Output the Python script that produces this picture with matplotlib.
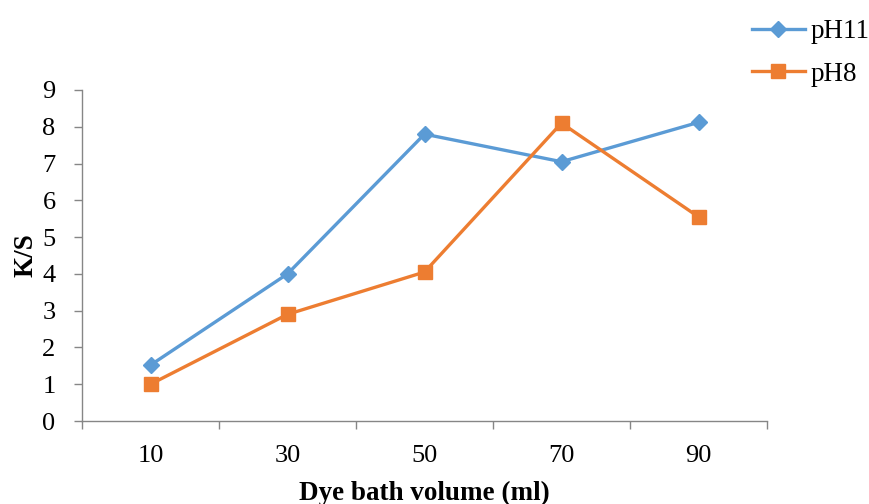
import matplotlib
matplotlib.use("Agg")
import matplotlib.pyplot as plt
import numpy as np

volumes = ["10", "30", "50", "70", "90"]
ks_ph11 = [1.52, 4.0, 7.8, 7.05, 8.12]
ks_ph8 = [1.0, 2.9, 4.05, 8.1, 5.55]

plt.rcParams["font.family"] = ["Liberation Serif", "DejaVu Serif"]

fig = plt.figure(figsize=(8.69, 5.04), dpi=100)
ax = fig.add_axes([82 / 869, 1 - 421 / 504, (767 - 82) / 869, (421 - 90) / 504])

x = np.arange(len(volumes))
axis_col = "#868686"

ax.plot(x, ks_ph11, color="#5B9BD5", linewidth=2.4, marker="D", markersize=8,
        label="pH11", clip_on=False, zorder=3)
ax.plot(x, ks_ph8, color="#ED7D31", linewidth=2.4, marker="s", markersize=10,
        label="pH8", clip_on=False, zorder=3)

ax.set_xlim(-0.5, len(volumes) - 0.5)
ax.set_ylim(0, 9)
ax.set_yticks(range(0, 10))
ax.set_xticks(x)
ax.set_xticklabels(volumes)
ax.set_xticks(np.arange(-0.5, len(volumes)), minor=True)

ax.tick_params(axis="x", which="major", length=0, pad=17, labelsize=19)
ax.tick_params(axis="x", which="minor", length=6, width=1, color=axis_col)
ax.tick_params(axis="y", length=6, width=1, color=axis_col, pad=13, labelsize=19)

for side in ("top", "right"):
    ax.spines[side].set_visible(False)
for side in ("left", "bottom"):
    ax.spines[side].set_color(axis_col)
    ax.spines[side].set_linewidth(1)

ax.set_ylabel("K/S", fontsize=19.5, fontweight="bold", labelpad=3)
ax.set_xlabel("Dye bath volume (ml)", fontsize=19.5, fontweight="bold", labelpad=10)

ax.legend(loc="upper left", bbox_to_anchor=(752 / 869, 1 - 19 / 504),
          bbox_transform=fig.transFigure, frameon=False, fontsize=19.5,
          handlelength=1.95, handletextpad=0.2, labelspacing=0.65,
          borderaxespad=0, borderpad=0)

fig.savefig("out.png", dpi=100)
